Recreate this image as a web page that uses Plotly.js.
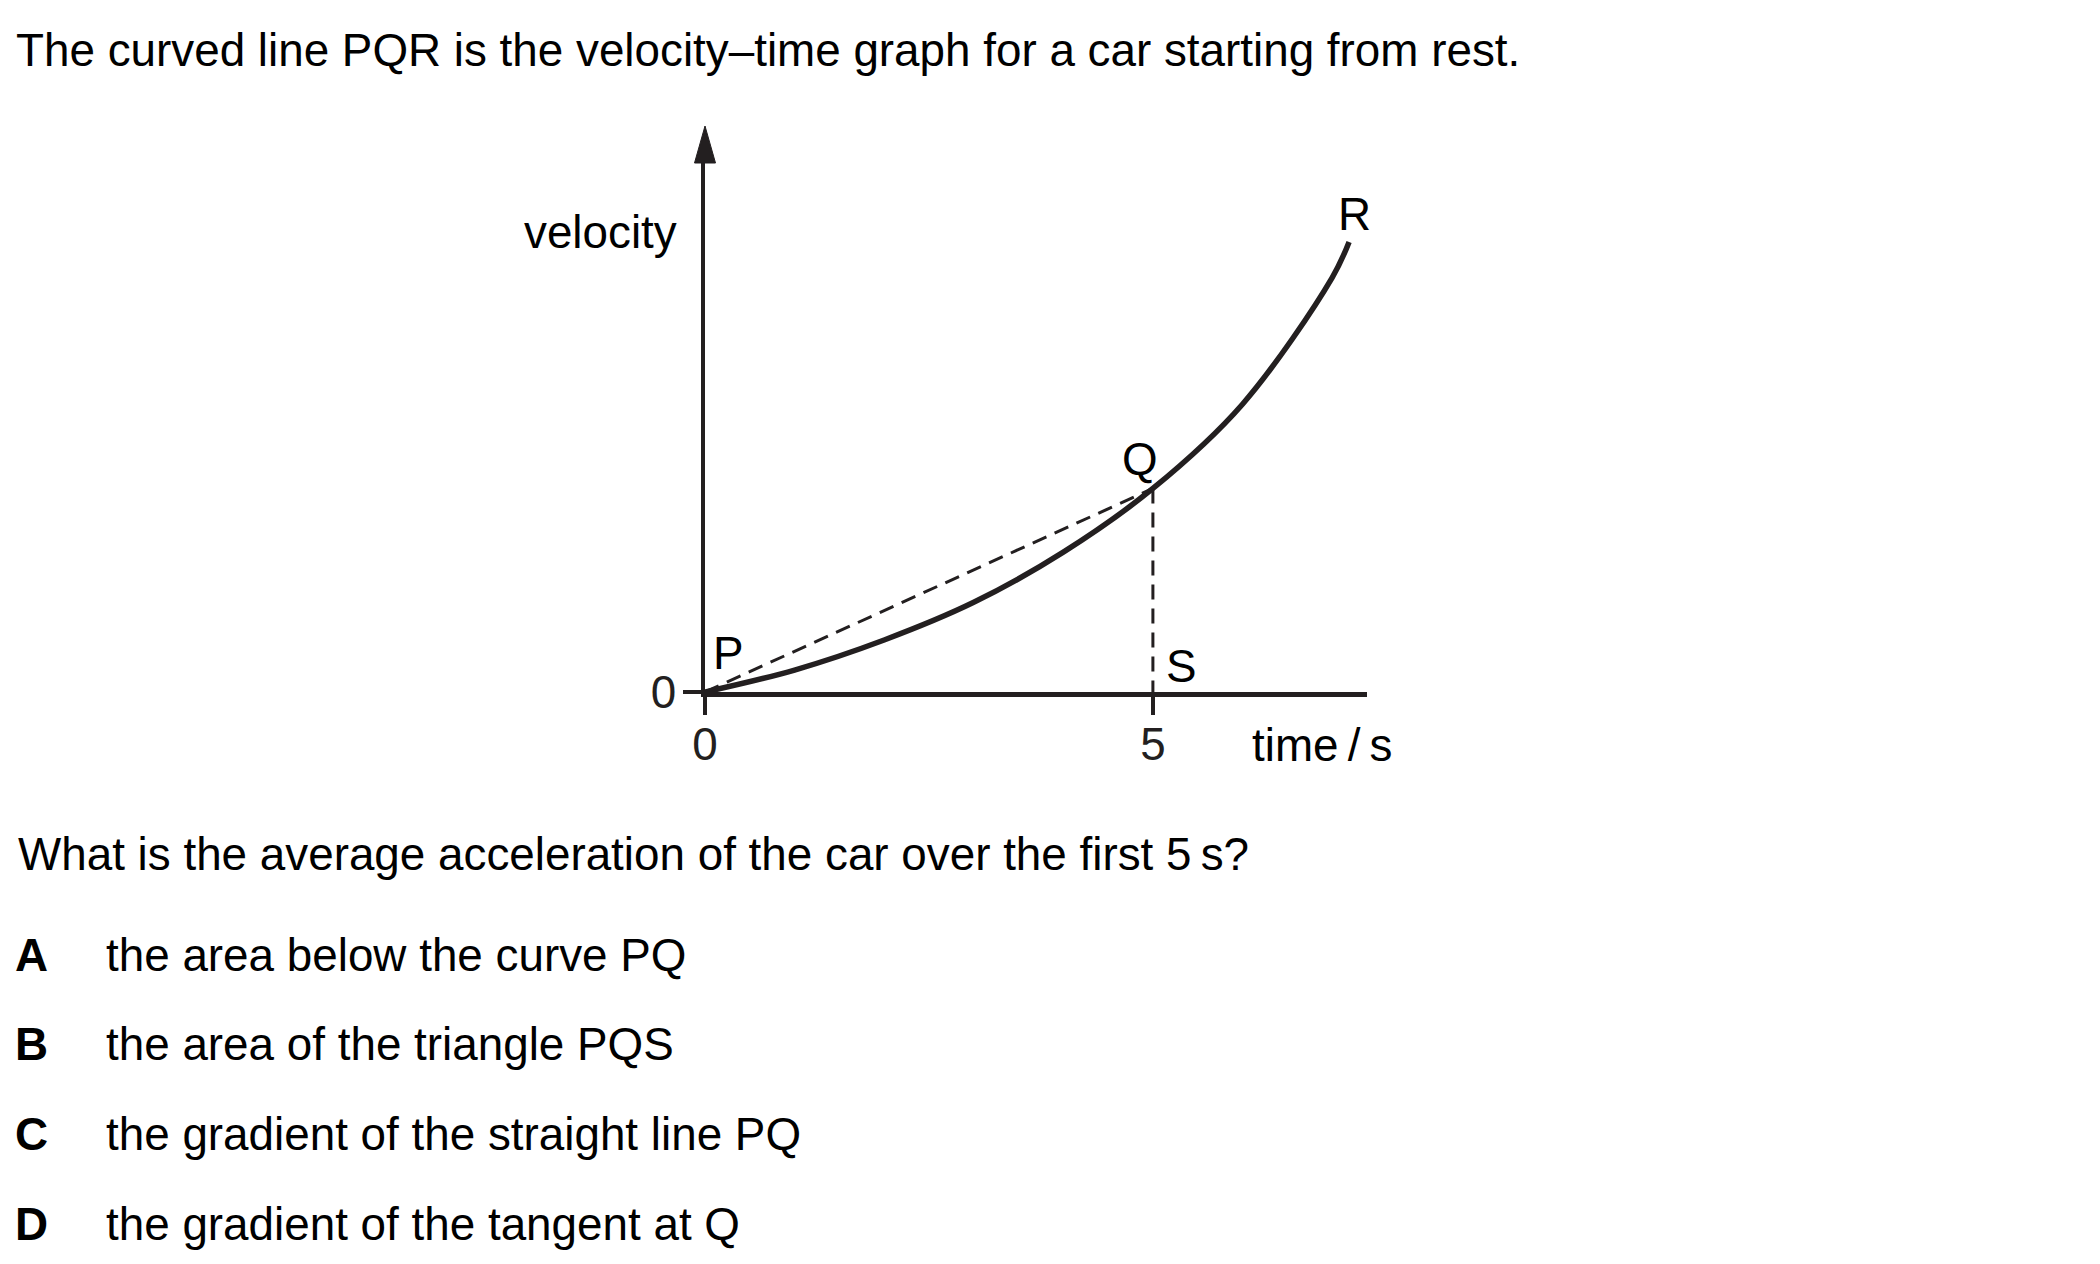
<!DOCTYPE html>
<html>
<head>
<meta charset="utf-8">
<script src="https://cdn.plot.ly/plotly-3.0.1.min.js"></script>
<style>
  html, body { margin: 0; padding: 0; background: #ffffff; }
  #chart { width: 2100px; height: 1264px; }
</style>
</head>
<body>
<div id="chart"></div>
<script>
// ---------- data ----------
const curveTime     = [0, 1, 2, 3, 4, 5, 6, 7, 7.19];
const curveVelocity = [0, 0.245, 0.58, 1.0, 1.56, 2.27, 3.21, 4.62, 5.02];
const chordTime     = [0, 5];
const chordVelocity = [0, 2.27];
const dropTime      = [5, 5];
const dropVelocity  = [2.27, 0];
const xTickVals     = [0, 5];
const xTickText     = ['0', '5'];
const yTickVals     = [0];
const yTickText     = ['0'];

const questionIntro = 'The curved line PQR is the velocity\u2013time graph for a car starting from rest.';
const questionText  = 'What is the average acceleration of the car over the first 5\u2009s?';
const optionLetters = ['A', 'B', 'C', 'D'];
const optionTexts   = [
  'the area below the curve PQ',
  'the area of the triangle PQS',
  'the gradient of the straight line PQ',
  'the gradient of the tangent at Q'
];

// ---------- layout constants ----------
const W = 2100, H = 1264;
const INK = '#231f20';
const FONT = 'Liberation Sans, Arial, Helvetica, sans-serif';
const FS = 45.8;
const px = v => v / W;
const py = v => 1 - v / H;

const axLeft = 705, axRight = 1367, axBottom = 692, axTop = 163, arrowTip = 126;
const xMax = 7.39, yMax = 5.90;

const optionY = [955, 1044, 1134, 1224];

const annotations = [];
function addText(text, x, y, xanchor, bold) {
  annotations.push({
    text: bold ? '<b>' + text + '</b>' : text,
    x: px(x), y: py(y), xref: 'paper', yref: 'paper',
    xanchor: xanchor, yanchor: 'middle', showarrow: false,
    font: { family: FONT, size: FS, color: '#000000' }
  });
}
addText(questionText, 16, 854, 'left');
optionLetters.forEach((l, i) => {
  addText(l, 13, optionY[i], 'left', true);
  addText(optionTexts[i], 104, optionY[i], 'left');
});
addText('velocity', 679, 233, 'right');
addText('R', 1354, 214, 'center');
addText('Q', 1140, 459, 'center');
addText('P', 728, 653, 'center');
addText('S', 1181, 666, 'center');
addText('time\u2009/\u2009s', 1322, 745, 'center');

const traces = [
  { x: curveTime, y: curveVelocity, mode: 'lines', type: 'scatter',
    line: { color: INK, width: 5.5, shape: 'spline', smoothing: 1 }, hoverinfo: 'skip', cliponaxis: false },
  { x: chordTime, y: chordVelocity, mode: 'lines', type: 'scatter',
    line: { color: INK, width: 3, dash: '15px,9px' }, hoverinfo: 'skip', cliponaxis: false },
  { x: dropTime, y: dropVelocity, mode: 'lines', type: 'scatter',
    line: { color: INK, width: 3, dash: '15px,9px' }, hoverinfo: 'skip', cliponaxis: false }
];

const layout = {
  width: W, height: H,
  margin: { l: 0, r: 0, t: 0, b: 0, pad: 0 },
  paper_bgcolor: '#ffffff', plot_bgcolor: 'rgba(0,0,0,0)',
  showlegend: false,
  title: {
    text: questionIntro, x: px(16), xanchor: 'left', xref: 'paper',
    y: py(50), yref: 'container', yanchor: 'middle',
    font: { family: FONT, size: FS, color: '#000000' }
  },
  xaxis: {
    domain: [px(axLeft), px(axRight)], range: [0, xMax], fixedrange: true,
    showgrid: false, zeroline: false, showline: true, linecolor: INK, linewidth: 4.5,
    ticks: 'outside', ticklen: 18, tickwidth: 4.5, tickcolor: INK,
    tickvals: xTickVals, ticktext: xTickText, ticklabelstandoff: -9,
    tickfont: { family: FONT, size: FS, color: INK }
  },
  yaxis: {
    domain: [1 - axBottom / H, 1 - axTop / H], range: [0, yMax], fixedrange: true,
    showgrid: false, zeroline: false, showline: true, linecolor: INK, linewidth: 4.5,
    ticks: 'outside', ticklen: 18, tickwidth: 4.5, tickcolor: INK,
    tickvals: yTickVals, ticktext: yTickText, ticklabelstandoff: -3,
    tickfont: { family: FONT, size: FS, color: INK }
  },
  shapes: [{
    type: 'path', xref: 'paper', yref: 'paper',
    path: 'M ' + px(axLeft - 10.5) + ' ' + py(axTop) +
          ' L ' + px(axLeft + 10.5) + ' ' + py(axTop) +
          ' L ' + px(axLeft) + ' ' + py(arrowTip) + ' Z',
    fillcolor: INK, line: { color: INK, width: 1 }
  }],
  annotations: annotations
};

Plotly.newPlot('chart', traces, layout, { staticPlot: true, displayModeBar: false });
</script>
</body>
</html>
